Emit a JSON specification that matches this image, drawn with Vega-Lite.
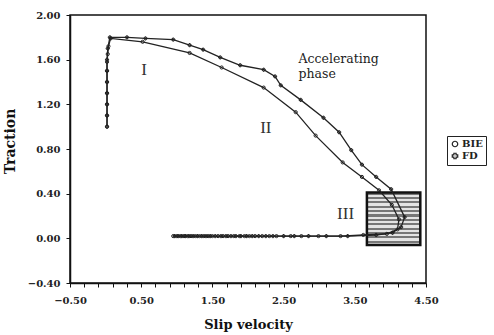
{
  "$schema": "https://vega.github.io/schema/vega-lite/v6.json",
  "width": 356,
  "height": 268,
  "autosize": "none",
  "padding": {"left": 70, "top": 15, "right": 68, "bottom": 52},
  "background": "white",
  "config": {
    "view": {"stroke": "#111", "strokeWidth": 1.5},
    "axis": {
      "grid": false,
      "domainColor": "#111",
      "domainWidth": 1.5,
      "tickColor": "#111",
      "tickSize": 4,
      "labelFont": "DejaVu Serif",
      "labelFontWeight": "bold",
      "labelFontSize": 10,
      "labelColor": "#222",
      "titleFont": "DejaVu Serif",
      "titleFontWeight": "bold",
      "titleFontSize": 14,
      "titleColor": "#111"
    }
  },
  "resolve": {"axis": {"x": "independent"}},
  "datasets": {
    "curves": [
      {"s": "BIE", "i": 1, "x": 0.02, "y": 1.0},
      {"s": "BIE", "i": 2, "x": 0.02, "y": 1.1},
      {"s": "BIE", "i": 3, "x": 0.02, "y": 1.2},
      {"s": "BIE", "i": 4, "x": 0.02, "y": 1.3},
      {"s": "BIE", "i": 5, "x": 0.02, "y": 1.4},
      {"s": "BIE", "i": 6, "x": 0.02, "y": 1.5},
      {"s": "BIE", "i": 7, "x": 0.02, "y": 1.58},
      {"s": "BIE", "i": 8, "x": 0.03, "y": 1.65},
      {"s": "BIE", "i": 9, "x": 0.04, "y": 1.72},
      {"s": "BIE", "i": 10, "x": 0.07, "y": 1.79},
      {"s": "BIE", "i": 11, "x": 0.52, "y": 1.76},
      {"s": "BIE", "i": 12, "x": 1.18, "y": 1.66},
      {"s": "BIE", "i": 13, "x": 1.63, "y": 1.53},
      {"s": "BIE", "i": 14, "x": 2.22, "y": 1.35},
      {"s": "BIE", "i": 15, "x": 2.67, "y": 1.13},
      {"s": "BIE", "i": 16, "x": 2.95, "y": 0.92},
      {"s": "BIE", "i": 17, "x": 3.33, "y": 0.68},
      {"s": "BIE", "i": 18, "x": 3.6, "y": 0.55},
      {"s": "BIE", "i": 19, "x": 3.84, "y": 0.43},
      {"s": "BIE", "i": 20, "x": 4.02, "y": 0.3},
      {"s": "BIE", "i": 21, "x": 4.12, "y": 0.17},
      {"s": "BIE", "i": 22, "x": 4.1, "y": 0.08},
      {"s": "BIE", "i": 23, "x": 3.95, "y": 0.04},
      {"s": "BIE", "i": 24, "x": 3.62, "y": 0.03},
      {"s": "BIE", "i": 25, "x": 3.3, "y": 0.02},
      {"s": "BIE", "i": 26, "x": 2.99, "y": 0.02},
      {"s": "BIE", "i": 27, "x": 2.75, "y": 0.02},
      {"s": "BIE", "i": 28, "x": 2.6, "y": 0.02},
      {"s": "BIE", "i": 29, "x": 2.4, "y": 0.02},
      {"s": "BIE", "i": 30, "x": 2.3, "y": 0.02},
      {"s": "BIE", "i": 31, "x": 2.2, "y": 0.02},
      {"s": "BIE", "i": 32, "x": 2.1, "y": 0.02},
      {"s": "BIE", "i": 33, "x": 2.02, "y": 0.02},
      {"s": "BIE", "i": 34, "x": 1.95, "y": 0.02},
      {"s": "BIE", "i": 35, "x": 1.88, "y": 0.02},
      {"s": "BIE", "i": 36, "x": 1.8, "y": 0.02},
      {"s": "BIE", "i": 37, "x": 1.72, "y": 0.02},
      {"s": "BIE", "i": 38, "x": 1.65, "y": 0.02},
      {"s": "BIE", "i": 39, "x": 1.58, "y": 0.02},
      {"s": "BIE", "i": 40, "x": 1.5, "y": 0.02},
      {"s": "BIE", "i": 41, "x": 1.44, "y": 0.02},
      {"s": "BIE", "i": 42, "x": 1.38, "y": 0.02},
      {"s": "BIE", "i": 43, "x": 1.32, "y": 0.02},
      {"s": "BIE", "i": 44, "x": 1.26, "y": 0.02},
      {"s": "BIE", "i": 45, "x": 1.2, "y": 0.02},
      {"s": "BIE", "i": 46, "x": 1.15, "y": 0.02},
      {"s": "BIE", "i": 47, "x": 1.1, "y": 0.02},
      {"s": "BIE", "i": 48, "x": 1.05, "y": 0.02},
      {"s": "BIE", "i": 49, "x": 1.0, "y": 0.02},
      {"s": "BIE", "i": 50, "x": 0.95, "y": 0.02},
      {"s": "FD", "i": 1, "x": 0.02, "y": 1.0},
      {"s": "FD", "i": 2, "x": 0.02, "y": 1.1},
      {"s": "FD", "i": 3, "x": 0.02, "y": 1.2},
      {"s": "FD", "i": 4, "x": 0.02, "y": 1.3},
      {"s": "FD", "i": 5, "x": 0.02, "y": 1.4},
      {"s": "FD", "i": 6, "x": 0.02, "y": 1.5},
      {"s": "FD", "i": 7, "x": 0.02, "y": 1.6},
      {"s": "FD", "i": 8, "x": 0.03, "y": 1.7},
      {"s": "FD", "i": 9, "x": 0.06, "y": 1.8},
      {"s": "FD", "i": 10, "x": 0.3, "y": 1.8},
      {"s": "FD", "i": 11, "x": 0.56, "y": 1.79},
      {"s": "FD", "i": 12, "x": 0.95, "y": 1.78},
      {"s": "FD", "i": 13, "x": 1.18, "y": 1.73},
      {"s": "FD", "i": 14, "x": 1.37, "y": 1.69},
      {"s": "FD", "i": 15, "x": 1.61, "y": 1.62},
      {"s": "FD", "i": 16, "x": 1.89, "y": 1.55},
      {"s": "FD", "i": 17, "x": 2.22, "y": 1.51},
      {"s": "FD", "i": 18, "x": 2.38, "y": 1.45},
      {"s": "FD", "i": 19, "x": 2.46, "y": 1.37},
      {"s": "FD", "i": 20, "x": 2.74, "y": 1.24},
      {"s": "FD", "i": 21, "x": 3.06, "y": 1.08},
      {"s": "FD", "i": 22, "x": 3.28, "y": 0.95},
      {"s": "FD", "i": 23, "x": 3.45, "y": 0.79},
      {"s": "FD", "i": 24, "x": 3.6, "y": 0.66},
      {"s": "FD", "i": 25, "x": 3.8, "y": 0.55},
      {"s": "FD", "i": 26, "x": 4.01, "y": 0.44},
      {"s": "FD", "i": 27, "x": 4.2, "y": 0.19},
      {"s": "FD", "i": 28, "x": 4.15, "y": 0.1},
      {"s": "FD", "i": 29, "x": 4.03, "y": 0.05},
      {"s": "FD", "i": 30, "x": 3.8, "y": 0.03},
      {"s": "FD", "i": 31, "x": 3.4, "y": 0.02},
      {"s": "FD", "i": 32, "x": 3.1, "y": 0.02},
      {"s": "FD", "i": 33, "x": 2.85, "y": 0.02},
      {"s": "FD", "i": 34, "x": 2.65, "y": 0.02},
      {"s": "FD", "i": 35, "x": 2.5, "y": 0.02},
      {"s": "FD", "i": 36, "x": 2.35, "y": 0.02},
      {"s": "FD", "i": 37, "x": 2.25, "y": 0.02},
      {"s": "FD", "i": 38, "x": 2.15, "y": 0.02},
      {"s": "FD", "i": 39, "x": 2.06, "y": 0.02},
      {"s": "FD", "i": 40, "x": 1.98, "y": 0.02},
      {"s": "FD", "i": 41, "x": 1.9, "y": 0.02},
      {"s": "FD", "i": 42, "x": 1.83, "y": 0.02},
      {"s": "FD", "i": 43, "x": 1.76, "y": 0.02},
      {"s": "FD", "i": 44, "x": 1.69, "y": 0.02},
      {"s": "FD", "i": 45, "x": 1.62, "y": 0.02},
      {"s": "FD", "i": 46, "x": 1.54, "y": 0.02},
      {"s": "FD", "i": 47, "x": 1.47, "y": 0.02},
      {"s": "FD", "i": 48, "x": 1.41, "y": 0.02},
      {"s": "FD", "i": 49, "x": 1.35, "y": 0.02},
      {"s": "FD", "i": 50, "x": 1.29, "y": 0.02},
      {"s": "FD", "i": 51, "x": 1.23, "y": 0.02},
      {"s": "FD", "i": 52, "x": 1.17, "y": 0.02},
      {"s": "FD", "i": 53, "x": 1.12, "y": 0.02},
      {"s": "FD", "i": 54, "x": 1.07, "y": 0.02},
      {"s": "FD", "i": 55, "x": 1.02, "y": 0.02},
      {"s": "FD", "i": 56, "x": 0.97, "y": 0.02}
    ],
    "box": [{"x1": 3.67, "x2": 4.42, "y1": -0.06, "y2": 0.41}],
    "roman": [
      {"x": 0.54, "y": 1.51, "t": "I"},
      {"x": 2.25, "y": 0.99, "t": "II"},
      {"x": 3.37, "y": 0.22, "t": "III"}
    ],
    "phase": [
      {"x": 2.71, "y": 1.605, "t": "Accelerating"},
      {"x": 2.71, "y": 1.475, "t": "phase"}
    ]
  },
  "layer": [
    {
      "data": {"name": "box"},
      "mark": {
        "type": "rect",
        "stroke": "#111",
        "strokeWidth": 2.5,
        "fill": {
          "gradient": "linear", "x1": 0, "y1": 0, "x2": 0, "y2": 1,
          "stops": [
            {"offset": 0, "color": "#777"}, {"offset": 0.0417, "color": "#777"}, {"offset": 0.0417, "color": "#e4e4e4"}, {"offset": 0.0833, "color": "#e4e4e4"},
            {"offset": 0.0833, "color": "#777"}, {"offset": 0.125, "color": "#777"}, {"offset": 0.125, "color": "#e4e4e4"}, {"offset": 0.1667, "color": "#e4e4e4"},
            {"offset": 0.1667, "color": "#777"}, {"offset": 0.2083, "color": "#777"}, {"offset": 0.2083, "color": "#e4e4e4"}, {"offset": 0.25, "color": "#e4e4e4"},
            {"offset": 0.25, "color": "#777"}, {"offset": 0.2917, "color": "#777"}, {"offset": 0.2917, "color": "#e4e4e4"}, {"offset": 0.3333, "color": "#e4e4e4"},
            {"offset": 0.3333, "color": "#777"}, {"offset": 0.375, "color": "#777"}, {"offset": 0.375, "color": "#e4e4e4"}, {"offset": 0.4167, "color": "#e4e4e4"},
            {"offset": 0.4167, "color": "#777"}, {"offset": 0.4583, "color": "#777"}, {"offset": 0.4583, "color": "#e4e4e4"}, {"offset": 0.5, "color": "#e4e4e4"},
            {"offset": 0.5, "color": "#777"}, {"offset": 0.5417, "color": "#777"}, {"offset": 0.5417, "color": "#e4e4e4"}, {"offset": 0.5833, "color": "#e4e4e4"},
            {"offset": 0.5833, "color": "#777"}, {"offset": 0.625, "color": "#777"}, {"offset": 0.625, "color": "#e4e4e4"}, {"offset": 0.6667, "color": "#e4e4e4"},
            {"offset": 0.6667, "color": "#777"}, {"offset": 0.7083, "color": "#777"}, {"offset": 0.7083, "color": "#e4e4e4"}, {"offset": 0.75, "color": "#e4e4e4"},
            {"offset": 0.75, "color": "#777"}, {"offset": 0.7917, "color": "#777"}, {"offset": 0.7917, "color": "#e4e4e4"}, {"offset": 0.8333, "color": "#e4e4e4"},
            {"offset": 0.8333, "color": "#777"}, {"offset": 0.875, "color": "#777"}, {"offset": 0.875, "color": "#e4e4e4"}, {"offset": 0.9167, "color": "#e4e4e4"},
            {"offset": 0.9167, "color": "#777"}, {"offset": 0.9583, "color": "#777"}, {"offset": 0.9583, "color": "#e4e4e4"}, {"offset": 1, "color": "#e4e4e4"}
          ]
        }
      },
      "encoding": {
        "x": {"field": "x1", "type": "quantitative", "scale": {"domain": [-0.5, 4.5], "nice": false, "zero": false},
          "axis": {
            "orient": "bottom",
            "title": "Slip velocity",
            "values": [-0.5, 0.5, 1.5, 2.5, 3.5, 4.5],
            "format": ".2f",
            "labelOverlap": false,
            "labelBound": false,
            "labelFlush": false,
            "labelPadding": 8,
            "titlePadding": 13,
            "titleFontSize": 13
          }},
        "x2": {"field": "x2"},
        "y": {"field": "y1", "type": "quantitative", "scale": {"domain": [-0.4, 2.0], "nice": false, "zero": false},
          "axis": {
            "title": "Traction",
            "values": [-0.4, -0.2, 0, 0.2, 0.4, 0.6, 0.8, 1.0, 1.2, 1.4, 1.6, 1.8, 2.0],
            "labelExpr": "abs(datum.value / 0.4 - round(datum.value / 0.4)) < 0.001 ? format(datum.value, '.2f') : ''",
            "labelOverlap": false,
            "labelBound": false,
            "labelFlush": false,
            "labelPadding": 6,
            "titlePadding": 10,
            "titleY": 126
          }},
        "y2": {"field": "y2"}
      }
    },
    {
      "data": {"name": "curves"},
      "mark": {"type": "line", "color": "#222", "strokeWidth": 1.3},
      "encoding": {
        "x": {"field": "x", "type": "quantitative",
          "axis": {
            "orient": "bottom",
            "title": null,
            "labels": false,
            "domain": false,
            "values": [-0.3, -0.1, 0.1, 0.3, 0.7, 0.9, 1.1, 1.3, 1.7, 1.9, 2.1, 2.3, 2.7, 2.9, 3.1, 3.3, 3.7, 3.9, 4.1, 4.3]
          }},
        "y": {"field": "y", "type": "quantitative"},
        "detail": {"field": "s"},
        "order": {"field": "i", "type": "quantitative"}
      }
    },
    {
      "data": {"name": "curves"},
      "mark": {"type": "point", "filled": false, "color": "#222", "strokeWidth": 1, "size": 10, "opacity": 1},
      "encoding": {
        "x": {"field": "x", "type": "quantitative", "axis": null},
        "y": {"field": "y", "type": "quantitative"},
        "shape": {
          "field": "s", "type": "nominal",
          "scale": {"domain": ["BIE", "FD"], "range": ["circle", "cross"]},
          "legend": {
            "title": null,
            "orient": "none",
            "legendX": 377,
            "legendY": 121,
            "strokeColor": "#222",
            "padding": 3,
            "rowPadding": 0,
            "symbolSize": 30,
            "symbolStrokeColor": "#222",
            "symbolStrokeWidth": 1.2,
            "labelFont": "DejaVu Serif",
            "labelFontWeight": "bold",
            "labelFontSize": 10,
            "labelColor": "#222",
            "labelOffset": 2
          }
        }
      }
    },
    {
      "data": {"name": "roman"},
      "mark": {"type": "text", "font": "Liberation Serif", "fontSize": 17, "color": "#333"},
      "encoding": {
        "x": {"field": "x", "type": "quantitative", "axis": null},
        "y": {"field": "y", "type": "quantitative"},
        "text": {"field": "t"}
      }
    },
    {
      "data": {"name": "phase"},
      "mark": {"type": "text", "font": "DejaVu Serif", "fontSize": 12.5, "align": "left", "color": "#222"},
      "encoding": {
        "x": {"field": "x", "type": "quantitative", "axis": null},
        "y": {"field": "y", "type": "quantitative"},
        "text": {"field": "t"}
      }
    }
  ]
}
